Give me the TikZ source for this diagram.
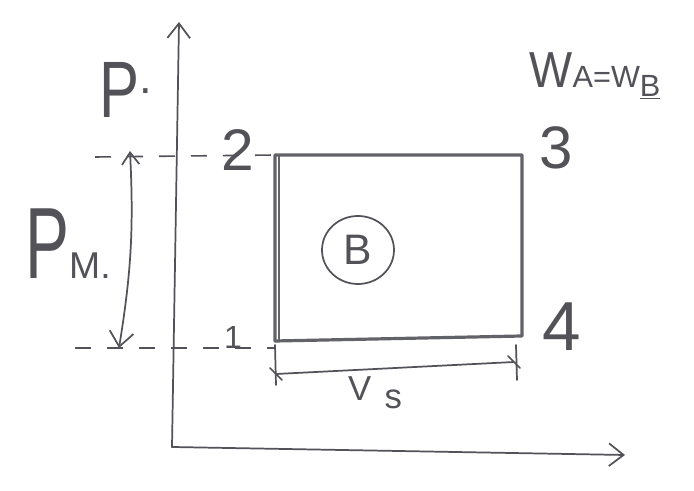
\documentclass[tikz,border=0pt]{standalone}
\usepackage{fontspec}
\setmainfont{Liberation Sans}
\usetikzlibrary{arrows.meta}
\definecolor{ink}{RGB}{82,82,88}
\definecolor{boxink}{RGB}{98,98,105}
\begin{document}
\begin{tikzpicture}[x=0.75pt,y=-0.75pt,
  pen/.style={draw=ink, line width=1.3pt, line cap=round},
  box/.style={draw=boxink, line width=2.4pt, line join=round},
  guide/.style={draw=ink, line width=1.2pt, dash pattern=on 12pt off 12pt},
  lab/.style={text=ink, inner sep=0pt, anchor=center},
  barb/.style={-{Straight Barb[length=11pt,width=17pt,line width=1.3pt]}},
  dbarb/.style={{Straight Barb[length=9pt,width=13pt,line width=1.3pt]}-{Straight Barb[length=11pt,width=18pt,line width=1.3pt]}}]
\useasboundingbox (0,0) rectangle (694,491);
% axes
\coordinate (O) at (172,447);
\coordinate (ytip) at (179,22);
\coordinate (xtip) at (625,455);
\draw[pen,barb] (O) -- (ytip);
\draw[pen,barb] (O) -- (xtip);
% cycle corners
\coordinate (c1) at (275,341);
\coordinate (c2) at (275,155);
\coordinate (c3) at (522,155);
\coordinate (c4) at (522,336);
\draw[box] (c1) -- (c2) -- (c3) -- (c4) -- cycle;
\draw[draw=boxink, line width=1.2pt] ([xshift=3]c1) -- ([xshift=3]c2);
% guide lines
\coordinate (g2) at (95,157);
\coordinate (g1) at (75,348);
\draw[guide] (g2) -- (c2);
\draw[guide] (g1) -- (c1 |- g1);
% labels
\node[lab, font=\fontsize{44}{44}\selectfont] (n2) at (238,150) {2};
\node[lab, font=\fontsize{45}{45}\selectfont] (n3) at (556,148) {3};
\node[lab, font=\fontsize{52}{52}\selectfont] (n4) at (562,327) {4};
\node[lab, font=\fontsize{24}{24}\selectfont] (n1) at (233,337) {1};
\node[lab, font=\fontsize{60}{60}\selectfont] (p) at (126,90) {\scalebox{0.75}[1]{P}\raisebox{18pt}{\fontsize{34}{34}\selectfont.}};
\node[lab, font=\fontsize{76}{76}\selectfont] (pm) at (68,244) {\scalebox{0.65}[1]{P}{\fontsize{28}{28}\selectfont M.}};
% pressure difference arrow
\coordinate (pmtop) at (130,151);
\coordinate (pmbot) at (119,348);
\draw[pen,dbarb] (pmtop) to[bend left=6] (pmbot);
% B circle
\node[lab, font=\fontsize{32}{32}\selectfont] (b) at (358,250) {B};
\draw[pen] (b) ellipse [x radius=36, y radius=34];
% swept volume
\coordinate (vsl) at (276,374);
\coordinate (vsr) at (514,362);
\draw[pen] (vsl) -- (vsr);
\draw[pen] (275,345) -- (276,385);
\draw[pen] (516,345) -- (517,380);
\draw[pen] (270,368) -- (282,380);
\draw[pen] (508,356) -- (520,368);
\node[lab, font=\fontsize{26}{26}\selectfont] (vs) at (375,393) {V\hspace{10pt}\raisebox{-6pt}{s}};
% work equality
\node[lab, font=\fontsize{38}{38}\selectfont] (w) at (595,76) {\scalebox{0.9}[1]{W}{\fontsize{23}{23}\selectfont A=W\raisebox{-7pt}{\underline{B}}}};
\end{tikzpicture}
\end{document}
